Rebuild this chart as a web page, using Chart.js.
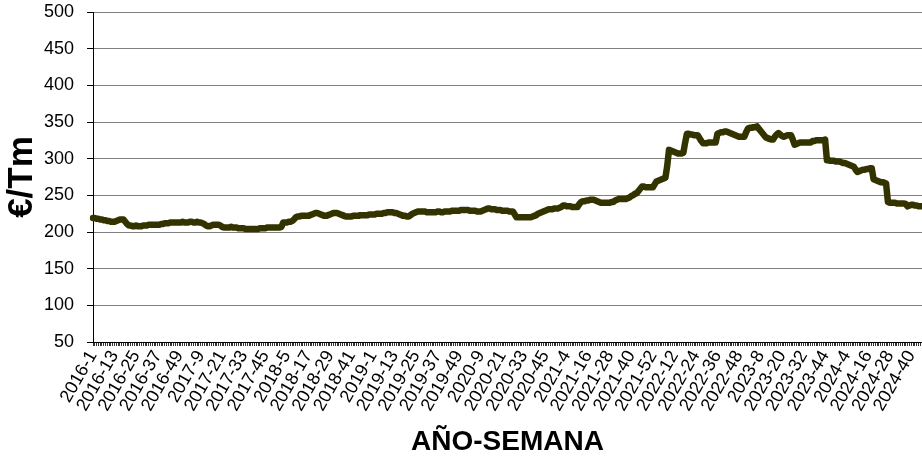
<!DOCTYPE html>
<html>
<head>
<meta charset="utf-8">
<script src="https://cdn.jsdelivr.net/npm/chart.js@4.4.1/dist/chart.umd.min.js"></script>
<style>
  html, body { margin: 0; padding: 0; background: #fff; }
  #wrap { width: 922px; height: 461px; position: relative; }
</style>
</head>
<body>
<div id="wrap"><canvas id="priceChart"></canvas></div>
<script>
// years and weeks per year (2024 up to week 46)
var years = [2016, 2017, 2018, 2019, 2020, 2021, 2022, 2023, 2024];
var weeksPerYear = [52, 52, 52, 52, 53, 52, 52, 52, 46];

// weekly price, €/Tm
var p2016 = [219,219,218,218,217,217,216,216,215,215,214,214,
             214,215,216,217,217,217,214,211,209,209,
             208,208,209,208,208,208,209,209,209,210,210,210,210,210,210,210,
             211,211,212,212,212,213,213,213,213,213,213,213,214,213];
var p2017 = [213,213,214,214,213,213,214,213,213,212,211,209,208,208,
             209,210,210,210,210,209,207,206,206,206,206,207,206,206,206,
             205,205,205,205,204,204,204,204,204,204,204,204,205,
             205,205,205,206,206,206,206,206,206,206];
var p2018 = [206,207,213,213,213,214,214,215,
             217,220,221,221,222,222,222,222,222,223,
             224,225,226,226,225,224,223,222,222,
             223,224,225,226,226,226,225,224,223,222,221,221,
             221,221,222,222,222,222,223,223,223,223,223,224,224];
var p2019 = [224,224,225,225,225,225,226,226,227,227,227,
             227,226,226,225,224,223,222,222,221,221,
             223,225,226,227,228,228,
             228,228,228,227,227,227,227,227,227,228,228,227,227,
             228,228,228,228,229,229,229,229,229,230,230,230];
var p2020 = [230,230,229,229,229,229,228,228,228,229,230,231,232,232,
             231,231,231,230,230,230,229,229,229,229,228,228,228,
             224,220,220,220,220,220,220,220,220,220,
             221,222,223,225,226,227,228,229,230,231,231,
             231,232,232,232,233];
var p2021 = [234,236,236,235,235,235,234,234,234,234,
             238,241,242,242,243,243,244,244,244,
             243,242,241,240,240,240,240,240,240,241,241,
             243,244,245,245,245,245,245,246,
             247,249,250,252,253,256,259,262,
             262,261,261,261,261,261];
var p2022 = [265,269,270,271,272,273,274,290,312,
             311,310,309,308,307,307,307,308,322,334,
             334,333,333,332,332,332,328,324,321,
             321,321,322,322,322,322,322,334,
             335,336,336,337,337,336,335,334,333,332,331,330,330,
             330,330,336];
var p2023 = [341,342,342,343,343,344,341,338,335,332,329,328,
             327,326,326,330,333,335,333,331,330,331,332,332,332,
             326,319,320,321,322,322,322,322,322,322,322,
             324,324,325,325,325,325,325,326,
             298,298,297,297,297,296,296,296];
var p2024 = [295,294,294,293,292,291,290,289,285,282,
             283,284,285,285,286,286,287,287,
             272,271,270,269,268,268,267,266,
             241,240,240,240,240,239,239,239,239,239,238,
             235,236,237,237,236,236,235,235,235];

var weekLabels = [];
for (var y = 0; y < years.length; y++) {
  for (var w = 1; w <= weeksPerYear[y]; w++) {
    weekLabels.push(years[y] + '-' + w);
  }
}
var prices = [].concat(p2016, p2017, p2018, p2019, p2020, p2021, p2022, p2023, p2024);

var yTicks = [50, 500, 50]; // min, max, step

var chart = new Chart(document.getElementById('priceChart'), {
  type: 'line',
  data: {
    labels: weekLabels,
    datasets: [{
      data: prices,
      borderColor: '#333300',
      borderWidth: 6.5,
      borderJoinStyle: 'round',
      borderCapStyle: 'round',
      pointRadius: 0,
      tension: 0,
      fill: false
    }]
  },
  options: {
    responsive: true,
    maintainAspectRatio: false,
    animation: false,
    layout: { padding: { top: 12, left: 0, right: 0, bottom: 0 } },
    plugins: {
      legend: { display: false },
      tooltip: { enabled: false }
    },
    scales: {
      x: {
        offset: false,
        afterFit: function (s) {
          s.height = 119;
          s.paddingLeft = 0;
          s.paddingRight = 0;
        },
        border: { display: true, color: '#000', width: 1 },
        grid: {
          display: true,
          drawOnChartArea: false,
          drawTicks: true,
          tickLength: 4,
          tickColor: '#333'
        },
        ticks: {
          autoSkip: false,
          minRotation: 60,
          maxRotation: 60,
          padding: 1,
          color: '#000',
          font: { family: 'Liberation Sans, Arial', size: 18 },
          callback: function (val, i) {
            return i % 12 === 0 ? this.getLabelForValue(val) : '';
          }
        },
        title: {
          display: true,
          text: 'AÑO-SEMANA',
          color: '#000',
          padding: { top: 0, bottom: 2 },
          font: { family: 'Liberation Sans, Arial', size: 28, weight: 'bold' }
        }
      },
      y: {
        min: yTicks[0],
        max: yTicks[1],
        afterFit: function (s) {
          s.width = 93;
          s.paddingTop = 0;
          s.paddingBottom = 0;
        },
        border: { display: true, color: '#000', width: 1 },
        grid: {
          color: '#808080',
          tickColor: '#000',
          tickLength: 6
        },
        ticks: {
          stepSize: yTicks[2],
          padding: 13,
          color: '#000',
          font: { family: 'Liberation Sans, Arial', size: 18 }
        },
        title: {
          display: true,
          text: '€/Tm',
          color: '#000',
          padding: { top: 1, bottom: 0 },
          font: { family: 'Liberation Sans, Arial', size: 35, weight: 'bold' }
        }
      }
    }
  }
});
</script>
</body>
</html>
